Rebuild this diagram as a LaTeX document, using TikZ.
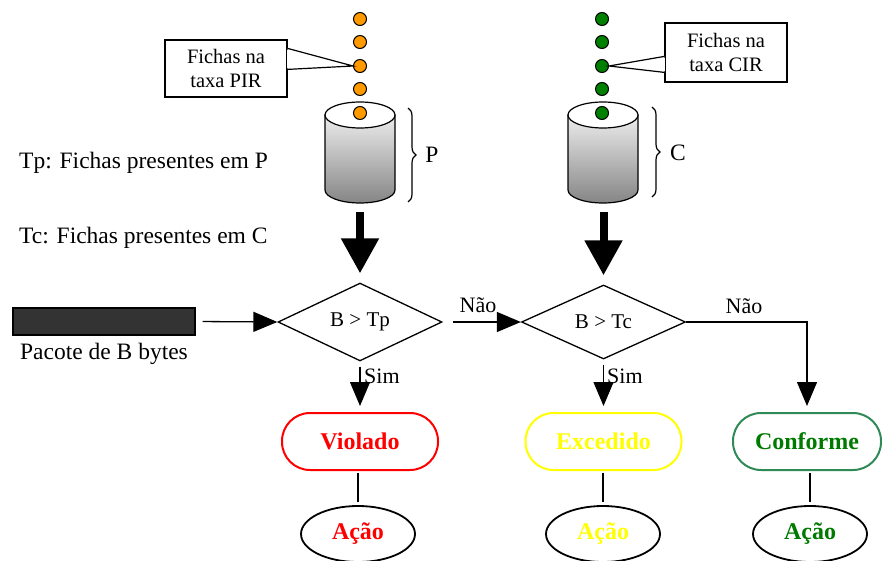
\documentclass[tikz,border=0pt]{standalone}
\usepackage{fontspec}
\setmainfont{Liberation Serif}
\usetikzlibrary{shapes.geometric, arrows.meta, decorations.pathreplacing, calc}
\definecolor{dotorange}{HTML}{FF9900}
\definecolor{dotgreen}{HTML}{008000}
\definecolor{pktgray}{HTML}{333333}
\definecolor{seagreen}{HTML}{2E8B57}
\definecolor{txtgreen}{HTML}{007A00}
\definecolor{ylw}{HTML}{FFFF00}
\definecolor{cyltop}{HTML}{EDEDED}
\definecolor{cylbot}{HTML}{858585}
\begin{document}
\begin{tikzpicture}[x=1pt,y=-1pt,
  bigtxt/.style={font=\fontsize{23.5}{28}\selectfont},
  lab/.style={font=\fontsize{22}{26}\selectfont},
  term/.style={draw, line width=2pt, rounded corners=28pt, minimum width=156, minimum height=57, inner sep=0, font=\bfseries\fontsize{24}{28}\selectfont},
  act/.style={ellipse, draw, line width=1.8pt, minimum width=114, minimum height=56, inner sep=0, font=\bfseries\fontsize{24}{28}\selectfont},
  dec/.style={diamond, draw, line width=1.3pt, minimum width=164, minimum height=74, inner sep=0, font=\fontsize{21}{24}\selectfont},
  dotO/.style={circle, draw, line width=1pt, fill=dotorange, minimum size=13, inner sep=0},
  dotG/.style={circle, draw, line width=1pt, fill=dotgreen, minimum size=13, inner sep=0},
  arr/.style={line width=1.3pt, -{Triangle[length=24pt,width=20pt]}},
  bigarr/.style={line width=8pt, -{Triangle[length=35pt,width=36pt]}},
  callbox/.style={draw, line width=1.2pt, fill=white, minimum width=122, minimum height=57, align=center, font=\fontsize{20.5}{24}\selectfont},
  cylbody/.style={draw, line width=1.2pt, top color=cyltop, bottom color=cylbot},
  brc/.style={decorate, decoration={brace, amplitude=8pt}, line width=1.2pt}
]
\useasboundingbox (0,0) rectangle (882,561);

% ---------- cylinders ----------
\node (cylP) [minimum width=70, minimum height=100, inner sep=0] at (360,152) {};
\draw[cylbody] (325,115) -- (325,190) arc[start angle=180, end angle=360, x radius=35pt, y radius=13pt] -- (395,115) -- cycle;
\draw[line width=1.2pt, fill=white] (360,115) ellipse [x radius=35pt, y radius=13pt];

\node (cylC) [minimum width=70, minimum height=100, inner sep=0] at (603,152) {};
\draw[cylbody] (568,115) -- (568,190) arc[start angle=180, end angle=360, x radius=35pt, y radius=13pt] -- (638,115) -- cycle;
\draw[line width=1.2pt, fill=white] (603,115) ellipse [x radius=35pt, y radius=13pt];

% ---------- tokens ----------
\node[dotO] (p1) at (360,19) {};
\node[dotO] (p2) at (360,42) {};
\node[dotO] (p3) at (360,66) {};
\node[dotO] (p4) at (360,89) {};
\node[dotO] (p5) at (360,113) {};
\node[dotG] (g1) at (602,19) {};
\node[dotG] (g2) at (602,42) {};
\node[dotG] (g3) at (602,66) {};
\node[dotG] (g4) at (602,89) {};
\node[dotG] (g5) at (602,113) {};

% ---------- callouts ----------
\node[callbox] (callP) at (226,68.5) {Fichas na\\taxa PIR};
\draw[line width=1.2pt, fill=white] ($(callP.north east)+(0,9)$) -- (p3.west) -- ($(callP.north east)+(0,30)$);
\draw[white, line width=2pt] ($(callP.north east)+(0,10.5)$) -- ($(callP.north east)+(0,28.5)$);

\node[callbox, minimum height=59] (callC) at (726,52.5) {Fichas na\\taxa CIR};
\draw[line width=1.2pt, fill=white] ($(callC.north west)+(0,34)$) -- (g3.east) -- ($(callC.north west)+(0,50)$);
\draw[white, line width=2pt] ($(callC.north west)+(0,35.5)$) -- ($(callC.north west)+(0,48.5)$);

% ---------- braces ----------
\draw[brc] (408,108) -- (408,202);
\node[bigtxt] (lblP) at (432,155) {P};
\draw[brc] (652,107) -- (652,197);
\node[bigtxt] (lblC) at (678,153) {C};

% ---------- legend ----------
\node[bigtxt, anchor=west, inner sep=0] (legP) at (19,163) {Tp: Fichas presentes em P};
\node[bigtxt, anchor=west, inner sep=0] (legC) at (19,238) {Tc: Fichas presentes em C};

% ---------- decisions ----------
\node[dec] (d1) at (360,322) {B > Tp};
\node[dec] (d2) at (603.5,322) {B > Tc};

\draw[bigarr, shorten <=10pt, shorten >=9pt] (cylP.south) -- (d1.north);
\draw[bigarr, shorten <=10pt, shorten >=9pt] (cylC.south -| d2.north) -- (d2.north);

% ---------- packet ----------
\node[draw, line width=1.2pt, fill=pktgray, minimum width=182, minimum height=27, inner sep=0] (pkt) at (104,321.5) {};
\node[bigtxt, anchor=north, inner sep=0] (pktlbl) at ($(pkt.south)+(0,7)$) {Pacote de B bytes};
\draw[arr, shorten <=7pt] (pkt.east) -- (d1.west);

\draw[arr, shorten <=10pt] (d1.east) -- (d2.west);
\node[lab] (nao1) at (478,305) {Não};

% ---------- outcomes ----------
\node[term, red, text=red] (viol) at (360,441.5) {Violado};
\node[term, ylw, text=ylw] (exc) at (603.5,441.5) {Excedido};
\node[term, seagreen, text=txtgreen, minimum width=148] (conf) at (807,441.5) {Conforme};

\draw[arr, shorten <=5pt, shorten >=6pt] (d1.south) -- (viol.north);
\node[lab, anchor=west, inner sep=0] (sim1) at (364,376) {Sim};
\draw[arr, shorten <=5pt, shorten >=6pt] (d2.south) -- (exc.north);
\node[lab, anchor=west, inner sep=0] (sim2) at (607,376) {Sim};

\draw[arr, shorten >=6pt] (d2.east) -| (conf.north);
\node[lab] (nao2) at (744,306) {Não};

% ---------- actions ----------
\node[act, text=red] (a1) at (358,534) {Ação};
\node[act, text=ylw] (a2) at (603,534) {Ação};
\node[act, text=txtgreen] (a3) at (810,534) {Ação};

\draw[line width=1.3pt, shorten <=2pt, shorten >=3pt] (viol.south -| a1.north) -- (a1.north);
\draw[line width=1.3pt, shorten <=2pt, shorten >=3pt] (exc.south -| a2.north) -- (a2.north);
\draw[line width=1.3pt, shorten <=2pt, shorten >=3pt] (conf.south -| a3.north) -- (a3.north);
\end{tikzpicture}
\end{document}
